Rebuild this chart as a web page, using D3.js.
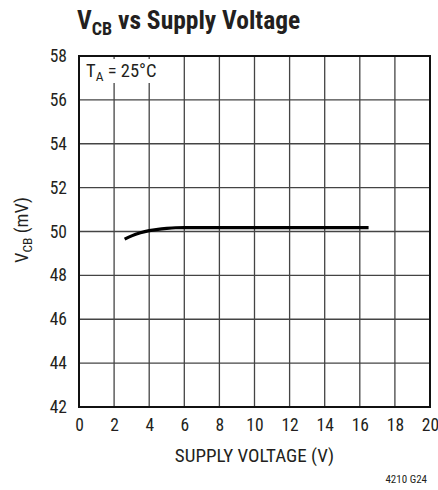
<!DOCTYPE html>
<html>
<head>
<meta charset="utf-8">
<script src="https://cdn.jsdelivr.net/npm/d3@7"></script>
<style>
  body { margin: 0; background: #fff; }
  svg text { font-family: "Liberation Sans Narrow", "Roboto Condensed", "Liberation Sans", sans-serif; fill: #231f20; }
</style>
</head>
<body>
<svg width="438" height="490"></svg>
<script>
// data
const supplyV = [2.6, 3.0, 3.5, 4.0, 4.5, 5.0, 5.5, 6.0, 8.0, 10.0, 12.0, 14.0, 16.5];
const vcb     = [49.65, 49.8, 49.94, 50.04, 50.1, 50.14, 50.17, 50.18, 50.18, 50.18, 50.18, 50.18, 50.18];
const xTicks = [0, 2, 4, 6, 8, 10, 12, 14, 16, 18, 20];
const yTicks = [42, 44, 46, 48, 50, 52, 54, 56, 58];

const svg = d3.select("svg");
const margin = { left: 79, right: 8, top: 56, bottom: 83 }; // plot box 79..430, 56..407
const W = 438, H = 490;

const x = d3.scaleLinear().domain([0, 20]).range([margin.left, W - margin.right]);
const y = d3.scaleLinear().domain([42, 58]).range([H - margin.bottom, margin.top]);

// grid
const grid = svg.append("g");
grid.selectAll("line.v").data(xTicks.slice(1, -1)).join("line")
    .attr("x1", d => x(d)).attr("x2", d => x(d))
    .attr("y1", y(58)).attr("y2", y(42))
    .attr("stroke", "#444").attr("stroke-width", 1.3);
grid.selectAll("line.h").data(yTicks.slice(1, -1)).join("line")
    .attr("x1", x(0)).attr("x2", x(20))
    .attr("y1", d => y(d)).attr("y2", d => y(d))
    .attr("stroke", "#444").attr("stroke-width", 1.3);

// T_A label with white backing
const lab = svg.append("g");
lab.append("rect").attr("x", x(0) + 3).attr("y", y(58) + 3).attr("width", 82).attr("height", 24).attr("fill", "#fff");
const ta = lab.append("text").attr("x", x(0) + 7).attr("y", y(58) + 21).attr("font-size", 18.5);
ta.append("tspan").text("T");
ta.append("tspan").attr("font-size", 13.5).attr("dy", 4).text("A");
ta.append("tspan").attr("dy", -4).text(" = 25°C");

// frame
svg.append("rect")
    .attr("x", x(0)).attr("y", y(58))
    .attr("width", x(20) - x(0)).attr("height", y(42) - y(58))
    .attr("fill", "none").attr("stroke", "#111").attr("stroke-width", 2);

// curve
const pts = supplyV.map((v, i) => [v, vcb[i]]);
svg.append("path")
    .datum(pts)
    .attr("fill", "none").attr("stroke", "#000").attr("stroke-width", 3.2)
    .attr("d", d3.line().x(d => x(d[0])).y(d => y(d[1])).curve(d3.curveMonotoneX));

// axes (labels only)
const xAxis = svg.append("g").attr("transform", `translate(0,${y(42)})`)
    .call(d3.axisBottom(x).tickValues(xTicks).tickSize(0).tickPadding(12).tickFormat(d3.format("d")));
xAxis.select(".domain").remove();
xAxis.selectAll("text").attr("font-size", 17.5).attr("fill", "#231f20").attr("font-family", null);

const yAxis = svg.append("g").attr("transform", `translate(${x(0)},0)`)
    .call(d3.axisLeft(y).tickValues(yTicks).tickSize(0).tickPadding(12).tickFormat(d3.format("d")));
yAxis.select(".domain").remove();
yAxis.selectAll("text").attr("font-size", 17.5).attr("fill", "#231f20").attr("font-family", null);

// title
const title = svg.append("text").attr("x", 77).attr("y", 29).attr("font-size", 25.5).attr("font-weight", "bold");
title.append("tspan").text("V");
title.append("tspan").attr("font-size", 18).attr("dy", 6).text("CB");
title.append("tspan").attr("dy", -6).text(" vs Supply Voltage");

// axis titles
svg.append("text").attr("x", 254.5).attr("y", 462)
    .attr("text-anchor", "middle").attr("font-size", 19).text("SUPPLY VOLTAGE (V)");

const yl = svg.append("text").attr("transform", `translate(28,230) rotate(-90)`)
    .attr("text-anchor", "middle").attr("font-size", 18.5);
yl.append("tspan").text("V");
yl.append("tspan").attr("font-size", 13.5).attr("dy", 4).text("CB");
yl.append("tspan").attr("dy", -4).text(" (mV)");

svg.append("text").attr("x", 427).attr("y", 483).attr("text-anchor", "end").attr("font-size", 11).text("4210 G24");
</script>
</body>
</html>
